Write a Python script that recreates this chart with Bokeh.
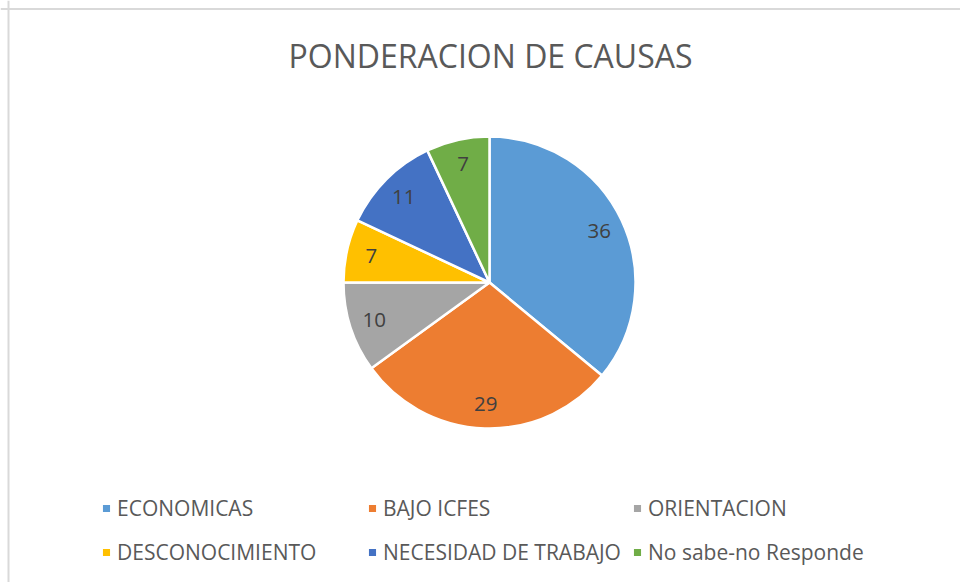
import numpy as np
from bokeh.plotting import figure
from bokeh.models import ColumnDataSource, Legend, LegendItem, Span
from bokeh.core.properties import value
from bokeh.embed import file_html
from bokeh.resources import INLINE

# ---- data ----
categories = ["ECONOMICAS", "BAJO ICFES", "ORIENTACION", "DESCONOCIMIENTO",
              "NECESIDAD DE TRABAJO", "No sabe-no Responde"]
values = [36, 29, 10, 7, 11, 7]
colors = ["#5B9BD5", "#ED7D31", "#A5A5A5", "#FFC000", "#4472C4", "#70AD47"]
title_text = "PONDERACION DE CAUSAS"

# ---- layout ----
W, H = 960, 582
cx, cy, R = 489, 300, 146
FONT = "Open Sans"

vals = np.array(values, dtype=float)
frac = vals / vals.sum()
cum = np.concatenate([[0.0], np.cumsum(frac)])
start = np.pi / 2 - cum[1:] * 2 * np.pi
end = np.pi / 2 - cum[:-1] * 2 * np.pi
mid = (start + end) / 2

src = ColumnDataSource(dict(
    cat=categories, val=values, color=colors, start=start, end=end,
    lx=cx + 0.83 * R * np.cos(mid), ly=cy + 0.83 * R * np.sin(mid),
    lab=[str(v) for v in values],
))

p = figure(width=W, height=H, x_range=(0, W), y_range=(0, H), min_border=0,
           output_backend="svg", toolbar_location=None, tools="",
           x_axis_location=None, y_axis_location=None)
p.grid.visible = False
p.outline_line_color = None
p.background_fill_color = "white"
p.border_fill_color = "white"

r = p.wedge(x=cx, y=cy, radius=R, radius_units="screen",
            start_angle="start", end_angle="end", direction="anticlock",
            fill_color="color", line_color="white", line_width=2.5, source=src)

p.text(x="lx", y="ly", text="lab", source=src, text_font=value(FONT),
       text_font_size="20.5px", text_color="#404040",
       text_align="center", text_baseline="middle")

p.text(x=[490], y=[527], text=[title_text], text_font=value(FONT),
       text_font_size="32px", text_color="#595959",
       text_align="center", text_baseline="alphabetic")

col_x = [100, 366, 631]
for c in range(3):
    items = [LegendItem(label=categories[i], renderers=[r], index=i) for i in (c, c + 3)]
    legend = Legend(items=items, location=(col_x[c], 16),
                    glyph_width=12, glyph_height=12, label_standoff=5, spacing=16,
                    padding=0, margin=0, border_line_alpha=0, background_fill_alpha=0,
                    label_text_font=FONT, label_text_font_size="21px",
                    label_text_color="#595959")
    p.add_layout(legend)

p.add_layout(Span(location=8, dimension="height", line_color="#d9d9d9", line_width=2))
p.add_layout(Span(location=H - 8.5, dimension="width", line_color="#d9d9d9", line_width=2))

open("out.html", "w").write(file_html(p, INLINE))
